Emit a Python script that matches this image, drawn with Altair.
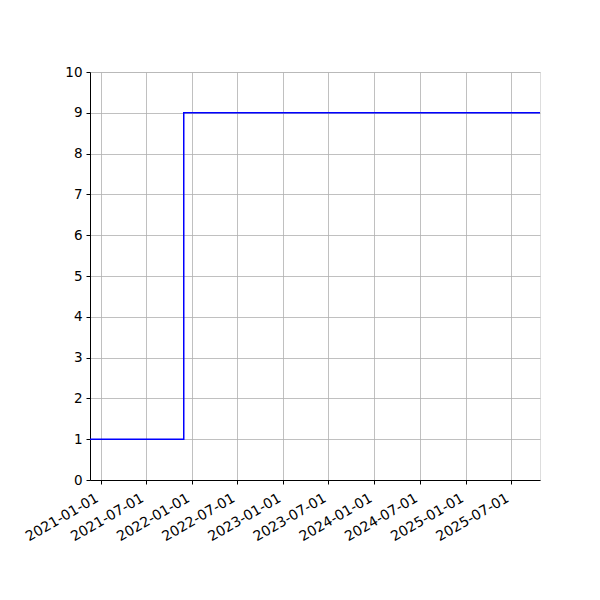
import altair as alt
import pandas as pd

dates = ["2020-11-20", "2021-11-30", "2025-10-25"]
values = [1, 9, 9]
tick_dates = ["2021-01-01", "2021-07-01", "2022-01-01", "2022-07-01", "2023-01-01",
              "2023-07-01", "2024-01-01", "2024-07-01", "2025-01-01", "2025-07-01"]
y_ticks = list(range(0, 11))

df = pd.DataFrame({"date": pd.to_datetime(dates), "value": values})

tick_vals = [alt.DateTime(year=int(d[:4]), month=int(d[5:7]), date=int(d[8:])) for d in tick_dates]

chart = alt.Chart(df).mark_line(interpolate="step-after", color="#0000ff", strokeWidth=1.5).encode(
    x=alt.X("date:T",
            scale=alt.Scale(domain=[alt.DateTime(year=2020, month=11, date=20),
                                    alt.DateTime(year=2025, month=10, date=25)], nice=False),
            axis=alt.Axis(values=tick_vals, format="%Y-%m-%d", labelAngle=-30, labelAlign="right",
                          labelBaseline="bottom", title=None, grid=True, gridColor="#b0b0b0",
                          gridWidth=0.8, domainColor="black", tickColor="black", tickSize=4,
                          labelFontSize=14, labelColor="black", labelFont="DejaVu Sans",
                          labelPadding=19, labelOverlap=False, labelFlush=False)),
    y=alt.Y("value:Q", scale=alt.Scale(domain=[0, 10], nice=False),
            axis=alt.Axis(values=y_ticks, title=None, grid=True, gridColor="#b0b0b0",
                          gridWidth=0.8, domainColor="black", tickColor="black", tickSize=4,
                          labelFontSize=13.5, labelColor="black", labelFont="DejaVu Sans",
                          labelPadding=4)),
).properties(
    width=450, height=408,
    autosize=alt.AutoSizeParams(type="none"),
    padding={"left": 82, "top": 64, "right": 50, "bottom": 100},
).configure_view(stroke="black", strokeWidth=1).configure(background="white")

chart.save("out.html", embed_options={"renderer": "svg", "actions": False})
